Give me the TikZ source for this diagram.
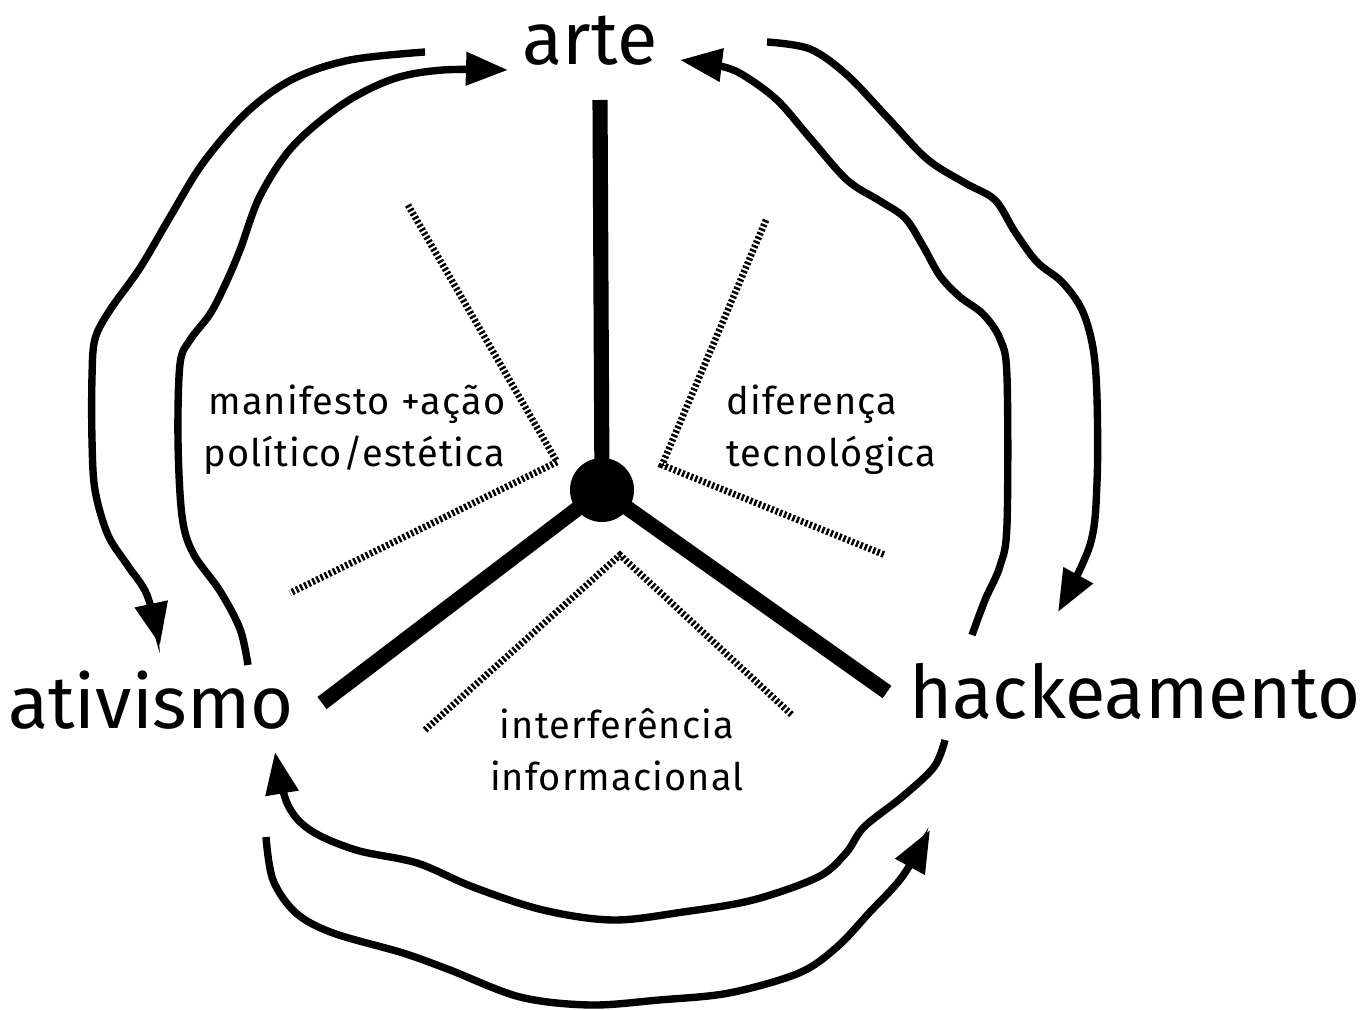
\documentclass[tikz,border=0pt]{standalone}
\usepackage{fontspec}
\setmainfont{Fira Sans}
\newfontfamily\labelfont[LetterSpace=3]{Fira Sans}
\usetikzlibrary{arrows.meta}

\begin{document}
\begin{tikzpicture}[x=0.01cm, y=-0.01cm,
		big/.style={font=\fontsize{21}{25}\selectfont, inner sep=0pt, anchor=base},
		small/.style={font=\labelfont\fontsize{10.8}{14.8}\selectfont, inner sep=0pt},
		spoke/.style={line width=4.3pt},
		hatch/.style={line width=1.9pt, dash pattern=on 0.7pt off 0.6pt},
		flow/.style={line width=2.1pt, -{Triangle[length=0.42cm, width=0.32cm]}},
		hub/.style={circle, fill, inner sep=0pt, minimum size=0.64cm}]
		\useasboundingbox (0,0) rectangle (1361,1010);
		\node[big] (arte) at (590,65) {arte};
		\node[big] (ativismo) at (151,728) {ativismo};
		\node[big] (hack) at (1135,718) {hackeamento};
		\node[hub] (hub) at (602,490) {};
		\coordinate (up) at (600,100);
		\coordinate (left) at (322,703);
		\coordinate (right) at (887,692);
		\draw[spoke] (hub.center) -- (up);
		\draw[spoke] (hub.center) -- (left);
		\draw[spoke] (hub.center) -- (right);
		\draw[hatch] (408,205) -- (557,462) -- (290,593);
		\draw[hatch] (766,220) -- (662,465) -- (885,555);
		\draw[hatch] (425,730) -- (620,555) -- (792,715);
		\node[small, align=right, anchor=east] (manifesto) at (506,430) {manifesto +ação\\político/estética};
		\node[small, align=left, anchor=west] (diferenca) at (726,430) {diferença\\tecnológica};
		\node[small, align=center] (interf) at (617,750) {interferência\\informacional};
		\coordinate (arteL) at (425,52);
		\coordinate (artein) at (508,70);
		\coordinate (arteR) at (767,42);
		\coordinate (arteout) at (680,60);
		\coordinate (ativU) at (248,665);
		\coordinate (ativin) at (160,645);
		\coordinate (ativD) at (266,837);
		\coordinate (ativout) at (275,752);
		\coordinate (hackU) at (972,635);
		\coordinate (hackin) at (1058,612);
		\coordinate (hackD) at (945,740);
		\coordinate (hackout) at (930,830);
		\draw[flow] plot[smooth, tension=0.55] coordinates {(arteL) (350,60) (293,79) (247,112) (203,163) (170,217) (140,268) (110,310) (95,339) (92,377) (92,440) (95,490) (108,535) (128,566) (147,595) (ativin)};
		\draw[flow] plot[smooth, tension=0.55] coordinates {(ativU) (240,629) (220,591) (193,553) (182,516) (178,440) (180,364) (190,340) (210,314) (225,285) (240,250) (260,196) (293,146) (343,104) (393,79) (443,70) (artein)};
		\draw[flow] plot[smooth, tension=0.55] coordinates {(arteR) (810,49) (847,75) (887,117) (927,159) (965,183) (995,200) (1015,232) (1037,262) (1062,282) (1082,310) (1093,348) (1097,398) (1097,482) (1090,545) (hackin)};
		\draw[flow] plot[smooth, tension=0.55] coordinates {(hackU) (985,600) (1000,566) (1007,524) (1007,377) (1000,339) (983,314) (960,297) (940,276) (923,246) (905,218) (880,201) (847,180) (810,138) (777,100) (743,75) (720,66) (arteout)};
		\draw[flow] plot[smooth, tension=0.55] coordinates {(hackD) (934,767) (902,797) (864,827) (846,853) (818,877) (753,900) (683,912) (613,920) (543,910) (473,887) (417,863) (356,850) (310,830) (287,803) (ativout)};
		\draw[flow] plot[smooth, tension=0.55] coordinates {(ativD) (273,880) (296,913) (333,933) (403,953) (450,970) (520,997) (590,1005) (659,1000) (729,993) (799,973) (837,947) (869,913) (902,877) (hackout)};
	\end{tikzpicture}
\end{document}
